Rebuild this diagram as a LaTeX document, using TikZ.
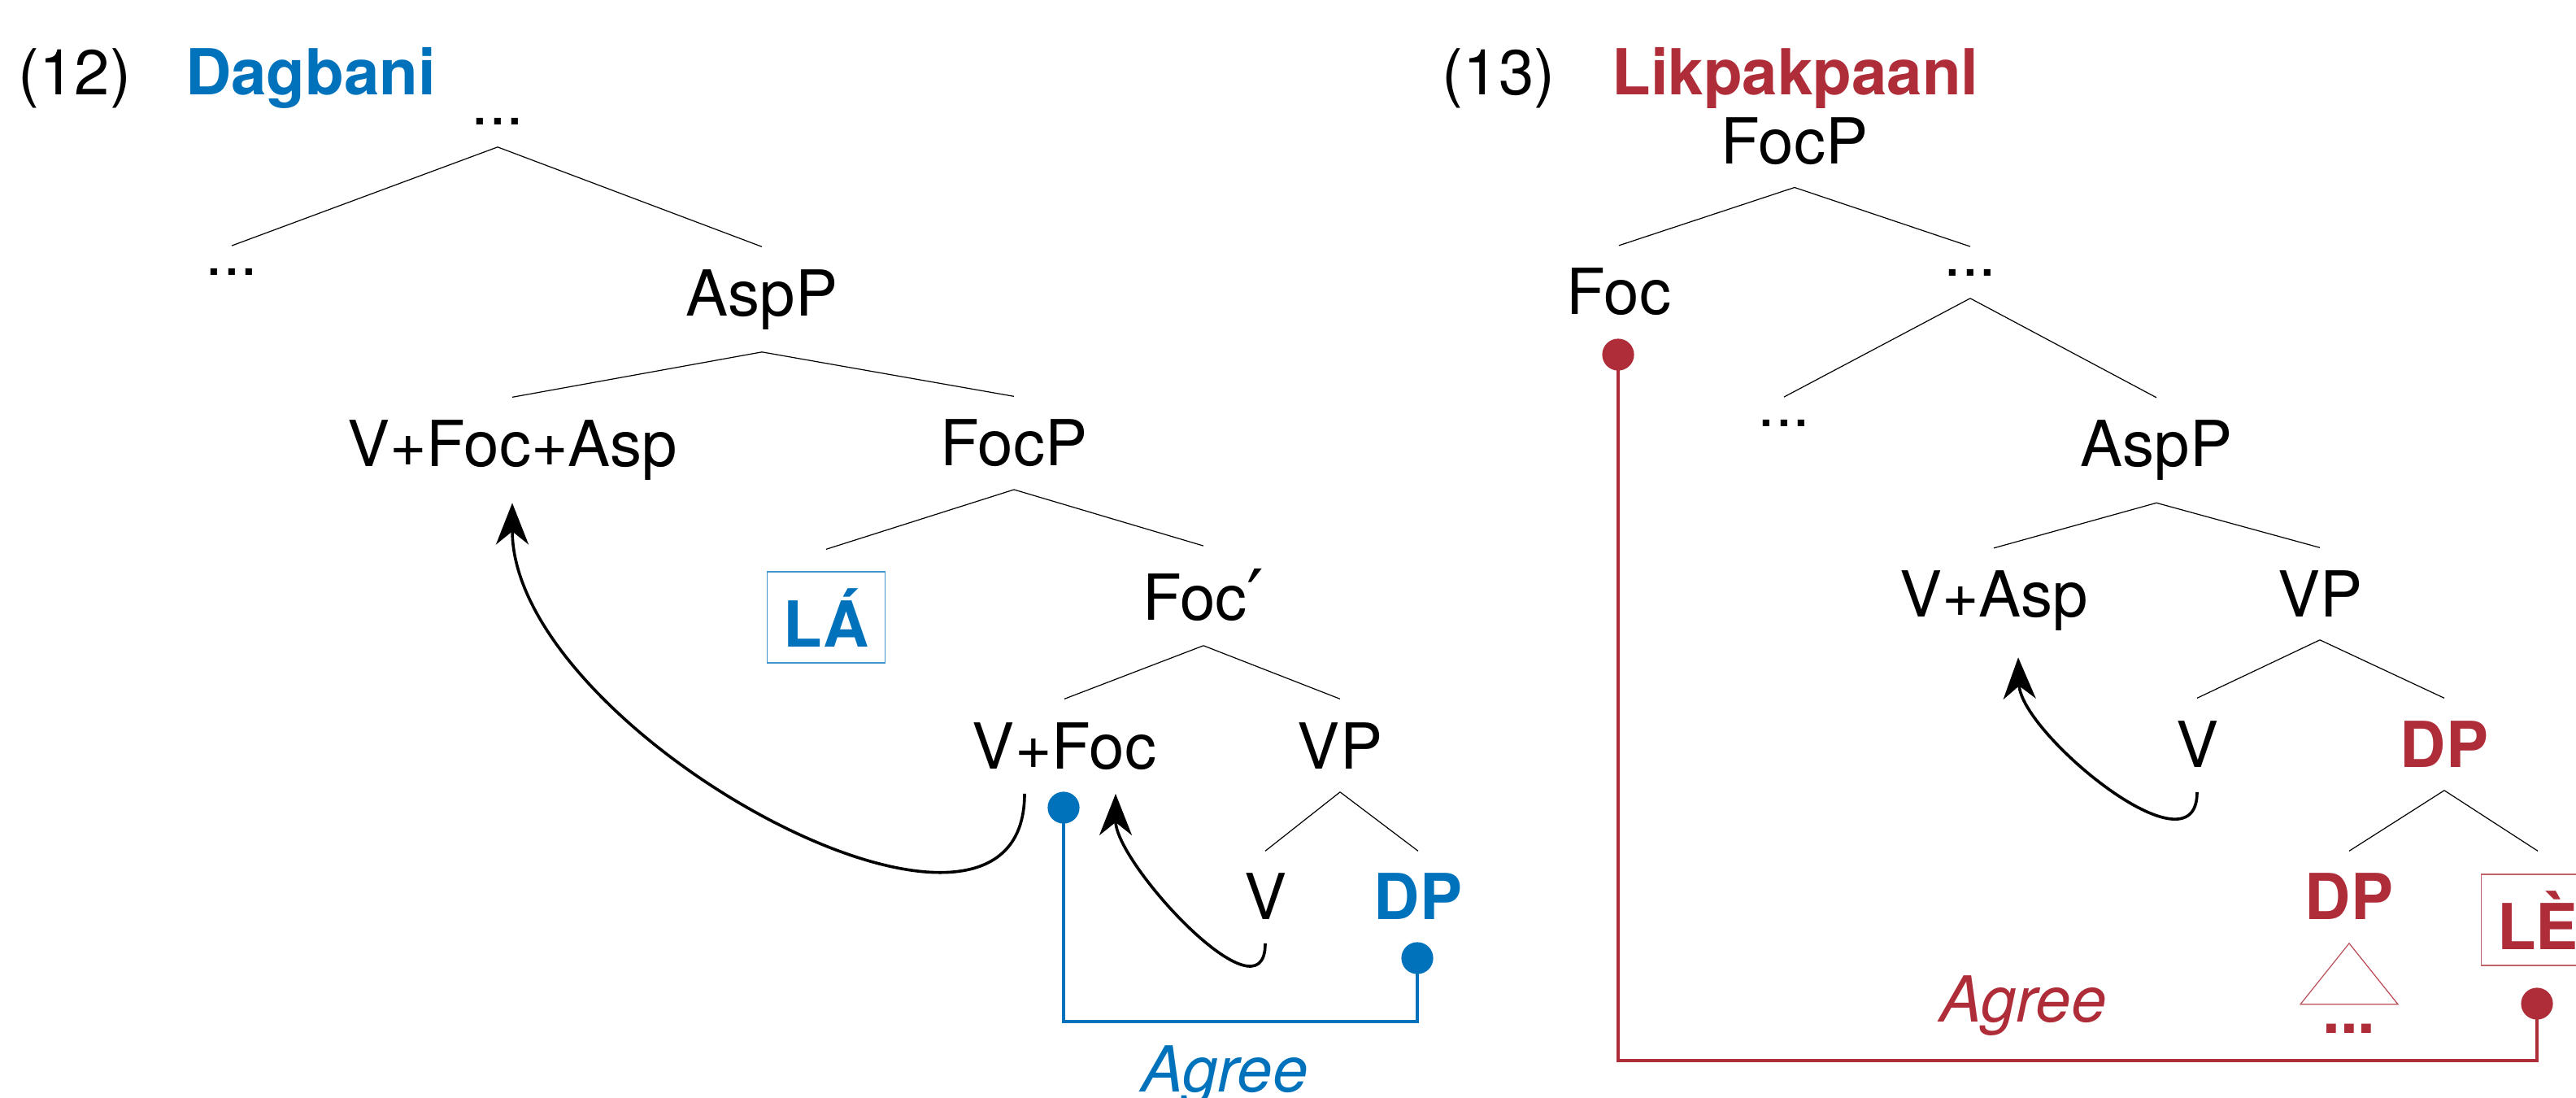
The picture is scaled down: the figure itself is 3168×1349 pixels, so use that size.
\documentclass[tikz,border=0pt]{standalone}
\usepackage{fontspec}
\setmainfont{TeX Gyre Heros}
\newfontfamily\primefont{DejaVu Sans}
\usetikzlibrary{arrows.meta}
\definecolor{dagblue}{RGB}{0,114,188}
\definecolor{likred}{RGB}{174,45,56}
\begin{document}
\begin{tikzpicture}[x=0.25pt,y=-0.25pt,
  every node/.style={font=\fontsize{19.5}{23}\selectfont, inner sep=0pt},
  lbl/.style={anchor=base},
  bl/.style={anchor=base, text=dagblue, font=\fontsize{19.5}{23}\selectfont\bfseries},
  rd/.style={anchor=base, text=likred, font=\fontsize{19.5}{23}\selectfont\bfseries},
  branch/.style={line width=0.3pt},
  mv/.style={line width=0.9pt, -{Stealth[length=12.75pt,width=10pt,inset=4pt]}},
  bdot/.style={circle, fill=dagblue, minimum size=9.8pt},
  rdot/.style={circle, fill=likred, minimum size=9.8pt},
  hbox/.style={draw, line width=0.35pt, inner sep=5pt, text height=18pt, text depth=0pt, anchor=base, font=\fontsize{19.5}{23}\selectfont\bfseries},
  agr/.style={anchor=base, font=\fontsize{19.5}{23}\selectfont\itshape}
]
\useasboundingbox (0,0) rectangle (3168,1349);

% ---------- (12) Dagbani ----------
\node[lbl] (n12) at (92,116) {(12)};
\node[bl] (dag) at (382,116) {Dagbani};
\node[lbl] (T0) at (612,153) {...};
\node[lbl] (L1) at (285,338) {...};
\node[lbl] (AspL) at (937,388) {AspP};
\node[lbl] (VFA) at (630,573) {V+Foc+Asp};
\node[lbl] (FocPL) at (1247,572) {FocP};
\node[hbox, draw=dagblue!75, text=dagblue] (LA) at (1016,795) {LÁ};
\node[lbl] (Focb) at (1480,762) {Foc\raisebox{-1pt}{\primefont\fontsize{23}{26}\selectfont ′}};
\node[lbl] (VFoc) at (1309,945) {V+Foc};
\node[lbl] (VPL) at (1648,945) {VP};
\node[lbl] (VL) at (1556,1130) {V};
\node[bl] (DPL) at (1744,1130) {DP};

\draw[branch] ([yshift=-6.75pt]T0.south) -- ([yshift=6.75pt]L1.north);
\draw[branch] ([yshift=-6.75pt]T0.south) -- ([yshift=6.75pt]AspL.north);
\draw[branch] ([yshift=-6.75pt]AspL.south) -- ([yshift=6.75pt]VFA.north);
\draw[branch] ([yshift=-6.75pt]AspL.south) -- ([yshift=6.75pt]FocPL.north);
\draw[branch] ([yshift=-7pt]FocPL.south) -- ([yshift=6.75pt]LA.north);
\draw[branch] ([yshift=-7pt]FocPL.south) -- ([yshift=6.75pt]Focb.north);
\draw[branch] ([yshift=-6.75pt]Focb.south) -- ([yshift=7pt]VFoc.north);
\draw[branch] ([yshift=-6.75pt]Focb.south) -- ([yshift=7pt]VPL.north);
\draw[branch] ([yshift=-7pt]VPL.south) -- ([yshift=6.5pt]VL.north);
\draw[branch] ([yshift=-7pt]VPL.south) -- ([yshift=6.5pt]DPL.north);

% movement arrows
\coordinate (a1s) at ([xshift=-12.25pt,yshift=-7.25pt]VFoc.south);
\coordinate (a1t) at ([yshift=-6.9pt]VFA.south);
\draw[mv] (a1s) .. controls +(0,266) and +(0,283) .. (a1t);
\coordinate (a2s) at ([yshift=-7.25pt]VL.south);
\coordinate (a2t) at ([xshift=15.75pt,yshift=-7.25pt]VFoc.south);
\draw[mv] (a2s) .. controls +(0,101) and +(0,86) .. (a2t);

% Agree (blue)
\node[bdot] (d1) at (1308,993) {};
\node[bdot] (d2) at (1743,1178) {};
\draw[dagblue, line width=1pt] (d1.center) |- ([yshift=-19.5pt]d2.center) -- (d2.center);
\node[agr, text=dagblue] (agB) at (1506,1342) {Agree};

% ---------- (13) Likpakpaanl ----------
\node[lbl] (n13) at (1843,116) {(13)};
\node[rd] (lik) at (2208,116) {Likpakpaanl};
\node[lbl] (FocPR) at (2207,201.5) {FocP};
\node[lbl] (FocR) at (1991,386.5) {Foc};
\node[lbl] (R1) at (2423,339) {...};
\node[lbl] (R2) at (2194,524) {...};
\node[lbl] (AspR) at (2652,573.5) {AspP};
\node[lbl] (VAsp) at (2452,758.5) {V+Asp};
\node[lbl] (VPR) at (2853,758) {VP};
\node[lbl] (VR) at (2702,943) {V};
\node[rd] (DPR) at (3006,943) {DP};
\node[rd] (DP2) at (2889,1130) {DP};
\node[hbox, draw=likred!75, text=likred] (LE) at (3121,1167) {LÈ};
\node[rd] (rdots) at (2889,1270) {...};

\draw[branch] ([yshift=-6.75pt]FocPR.south) -- ([yshift=6.75pt]FocR.north);
\draw[branch] ([yshift=-6.75pt]FocPR.south) -- ([yshift=6.75pt]R1.north);
\draw[branch] ([yshift=-6.75pt]R1.south) -- ([yshift=6.75pt]R2.north);
\draw[branch] ([yshift=-6.75pt]R1.south) -- ([yshift=6.75pt]AspR.north);
\draw[branch] ([yshift=-6.75pt]AspR.south) -- ([yshift=6.75pt]VAsp.north);
\draw[branch] ([yshift=-6.75pt]AspR.south) -- ([yshift=6.75pt]VPR.north);
\draw[branch] ([yshift=-7pt]VPR.south) -- ([yshift=6.75pt]VR.north);
\draw[branch] ([yshift=-7pt]VPR.south) -- ([yshift=6.75pt]DPR.north);
\draw[branch] ([yshift=-7pt]DPR.south) -- ([yshift=6.5pt]DP2.north);
\draw[branch] ([yshift=-7pt]DPR.south) -- ([yshift=7pt]LE.north);

% triangle under DP
\draw[likred!85, line width=0.3pt] ([yshift=-7.25pt]DP2.south) -- ++(-60,75) -- ++(120,0) -- cycle;

% movement arrow
\coordinate (a3s) at ([yshift=-7.5pt]VR.south);
\coordinate (a3t) at ([xshift=7.5pt,yshift=-8pt]VAsp.south);
\draw[mv] (a3s) .. controls +(0,107) and +(3,93) .. (a3t);

% Agree (red)
\node[rdot] (r1) at (1990,436) {};
\node[rdot] (r2) at (3120,1234) {};
\draw[likred, line width=0.9pt] (r1.center) |- ([yshift=-17.5pt]r2.center) -- (r2.center);
\node[agr, text=likred] (agR) at (2488,1256) {Agree};
\end{tikzpicture}
\end{document}
